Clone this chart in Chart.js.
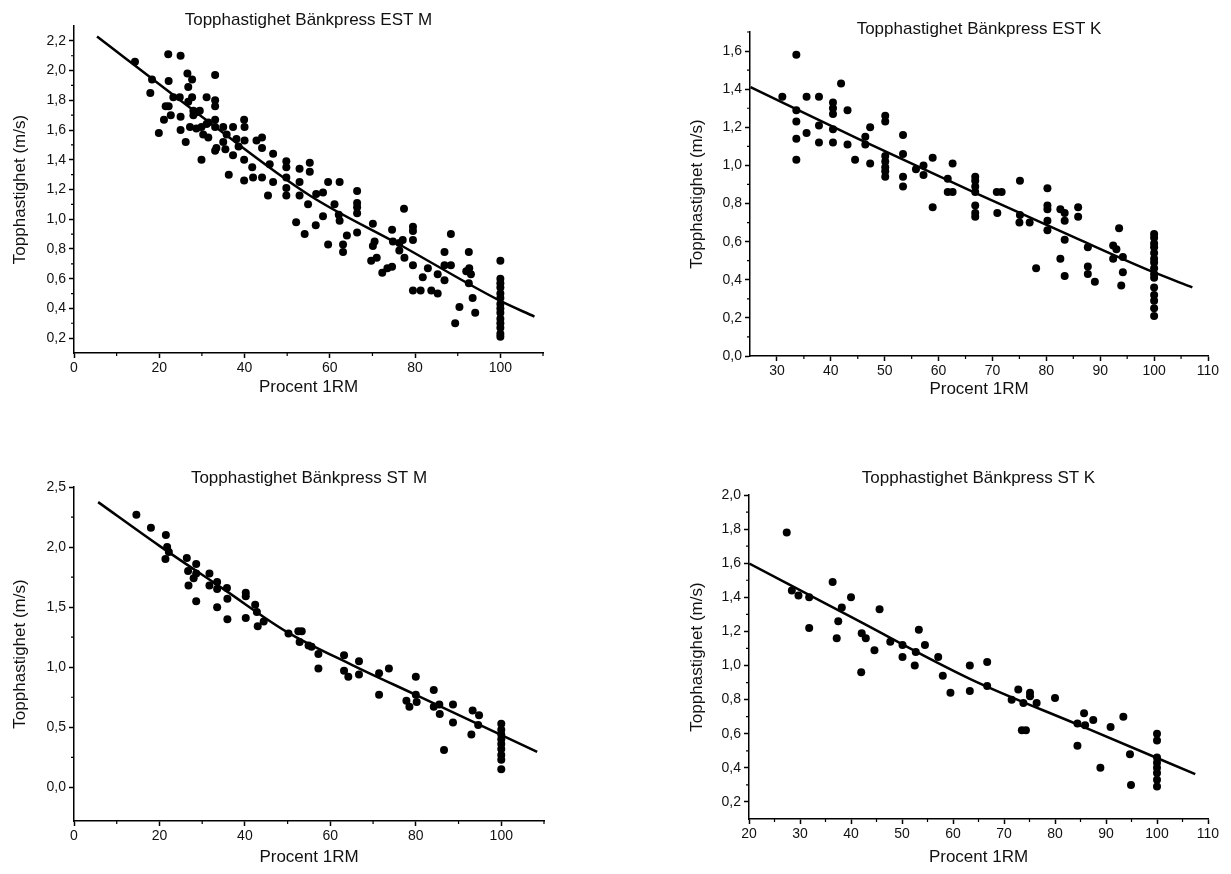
<!DOCTYPE html>
<html lang="sv">
<head>
<meta charset="utf-8">
<title>Topphastighet Bänkpress</title>
<script src="https://cdn.jsdelivr.net/npm/chart.js@4/dist/chart.umd.min.js"></script>
<style>
  html, body { margin: 0; padding: 0; background: #fff; }
  body { width: 1231px; height: 874px; position: relative; overflow: hidden; }
  canvas { position: absolute; }
</style>
</head>
<body>
<canvas id="estM" width="600" height="420" style="left:0;top:0"></canvas>
<canvas id="estK" width="580" height="420" style="left:650px;top:0"></canvas>
<canvas id="stM" width="600" height="434" style="left:0;top:440px"></canvas>
<canvas id="stK" width="580" height="434" style="left:650px;top:440px"></canvas>
<script>
// ---- Bänkpress EST, män ----
const estMLoad = [
  14.3, 22.1, 25.0, 18.3, 17.9, 26.6, 27.7, 26.8, 22.2, 33.1, 23.3, 24.8, 26.8, 27.7, 31.1, 33.1, 33.1, 21.5, 22.2, 22.7,
  21.1, 25.0, 19.9, 25.0, 26.2, 28.0, 28.7, 29.5, 28.0, 27.2, 28.7, 29.9, 31.1, 31.5, 30.3, 31.5, 33.1, 33.1, 33.4, 33.1,
  29.9, 35.0, 37.3, 39.9, 40.0, 35.8, 35.0, 35.5, 37.3, 38.1, 40.0, 38.6, 36.3, 39.9, 39.9, 41.8, 42.0, 42.8, 44.1, 44.1,
  44.1, 46.7, 45.9, 46.7, 45.5, 49.8, 49.8, 49.8, 49.8, 49.8, 52.9, 52.9, 52.9, 55.3, 55.3, 54.9,
  52.1, 54.1, 56.8, 58.4, 59.6, 62.3, 56.7, 58.4, 61.1, 62.1, 62.3, 59.6, 63.1, 63.1, 64.0, 66.4, 66.4, 66.4, 66.4, 66.4,
  70.1, 70.5, 70.1, 69.7, 71.0, 72.3, 73.5, 74.6, 74.6, 74.8, 76.3, 77.1, 76.3, 77.5, 77.4, 79.5, 79.5, 79.5, 79.5, 81.8,
  83.0, 79.5, 81.3, 83.8, 85.3, 85.3, 86.9, 86.9, 86.9, 88.4, 88.4, 92.6, 92.0, 92.7, 93.1, 92.6, 93.5, 90.4, 89.4, 94.1,
  100, 100, 100, 100, 100, 100, 100, 100, 100, 100, 100, 100, 100, 100
];
const estMSpeed = [
  2.06, 2.11, 2.10, 1.94, 1.85, 1.98, 1.94, 1.89, 1.93, 1.97, 1.82, 1.82, 1.79, 1.82, 1.82, 1.80, 1.76, 1.76, 1.76, 1.70,
  1.67, 1.69, 1.58, 1.60, 1.52, 1.73, 1.72, 1.73, 1.70, 1.62, 1.61, 1.62, 1.64, 1.65, 1.57, 1.55, 1.67, 1.62, 1.48, 1.46,
  1.40, 1.62, 1.62, 1.67, 1.62, 1.57, 1.52, 1.47, 1.43, 1.54, 1.53, 1.49, 1.30, 1.40, 1.26, 1.35, 1.28, 1.53, 1.55, 1.48,
  1.28, 1.44, 1.37, 1.25, 1.16, 1.39, 1.35, 1.28, 1.21, 1.16, 1.34, 1.25, 1.16, 1.38, 1.32, 1.10,
  0.98, 0.90, 1.17, 1.18, 1.25, 1.25, 0.96, 1.02, 1.10, 1.03, 0.99, 0.83, 0.83, 0.78, 0.89, 1.19, 1.11, 1.08, 1.04, 0.91,
  0.97, 0.85, 0.82, 0.72, 0.74, 0.64, 0.67, 0.68, 0.93, 0.85, 0.84, 0.86, 0.79, 0.74, 1.07, 0.95, 0.92, 0.86, 0.69, 0.61,
  0.67, 0.52, 0.52, 0.52, 0.50, 0.63, 0.78, 0.69, 0.59, 0.69, 0.90, 0.78, 0.65, 0.67, 0.63, 0.57, 0.47, 0.41, 0.30, 0.37,
  0.72, 0.60, 0.57, 0.54, 0.50, 0.47, 0.43, 0.40, 0.37, 0.33, 0.30, 0.27, 0.23, 0.21
];
const estMFitLoad = [5.4, 30, 55.3, 76.3, 100, 108];
const estMFitSpeed = [2.23, 1.69, 1.16, 0.83, 0.45, 0.345];
const estMXTicks = [0, 20, 40, 60, 80, 100];
const estMXMinor = [10, 30, 50, 70, 90, 110];
const estMYTicks = [0.2, 0.4, 0.6, 0.8, 1.0, 1.2, 1.4, 1.6, 1.8, 2.0, 2.2];
const estMYMinor = [0.3, 0.5, 0.7, 0.9, 1.1, 1.3, 1.5, 1.7, 1.9, 2.1];

// ---- Bänkpress EST, kvinnor ----
const estKLoad = [
  31.0, 33.6, 33.6, 33.6, 33.6, 33.6, 35.5, 35.5, 37.8, 37.8, 37.8, 40.4, 40.4, 40.4, 40.4, 40.4, 41.9, 43.1, 43.1, 44.5,
  46.4, 46.4, 47.3, 47.3, 50.1, 50.1, 50.1, 50.1, 50.1, 50.1, 50.1, 53.4, 53.4, 53.4, 53.4, 55.8, 57.2, 57.2, 58.9, 58.9,
  61.7, 61.7, 62.6, 62.6, 66.8, 66.8, 66.8, 66.8, 66.8, 66.8, 66.8,
  70.8, 71.7, 70.9, 75.1, 75.1, 75.0, 76.9, 78.1, 80.2, 80.2, 80.2, 80.2, 80.2, 82.6, 83.4, 83.4, 83.4, 82.6, 83.4, 85.9,
  85.9, 87.7, 87.7, 87.7, 89.0, 93.5, 92.4, 93.0, 92.4, 94.2, 94.2, 93.9,
  100, 100, 100, 100, 100, 100, 100, 100, 100, 100, 100, 100, 100, 100, 100
];
const estKSpeed = [
  1.36, 1.58, 1.29, 1.23, 1.14, 1.03, 1.36, 1.17, 1.36, 1.21, 1.12, 1.33, 1.30, 1.27, 1.19, 1.12, 1.43, 1.29, 1.11, 1.03,
  1.15, 1.11, 1.20, 1.01, 1.26, 1.23, 1.05, 1.02, 0.99, 0.97, 0.94, 1.16, 1.06, 0.94, 0.89, 0.98, 1.00, 0.95, 1.04, 0.78,
  0.93, 0.86, 0.86, 1.01, 0.94, 0.92, 0.89, 0.86, 0.79, 0.75, 0.73,
  0.86, 0.86, 0.75, 0.92, 0.74, 0.70, 0.70, 0.46, 0.88, 0.79, 0.77, 0.71, 0.66, 0.77, 0.75, 0.71, 0.61, 0.51, 0.42, 0.78,
  0.73, 0.57, 0.47, 0.43, 0.39, 0.67, 0.58, 0.56, 0.51, 0.52, 0.44, 0.37,
  0.64, 0.62, 0.59, 0.57, 0.54, 0.51, 0.49, 0.46, 0.43, 0.41, 0.36, 0.32, 0.29, 0.25, 0.21
];
const estKFitLoad = [25.1, 45, 67.1, 85, 99.8, 107.1];
const estKFitSpeed = [1.411, 1.14, 0.852, 0.625, 0.441, 0.36];
const estKXTicks = [30, 40, 50, 60, 70, 80, 90, 100, 110];
const estKXMinor = [35, 45, 55, 65, 75, 85, 95, 105];
const estKYTicks = [0.0, 0.2, 0.4, 0.6, 0.8, 1.0, 1.2, 1.4, 1.6];
const estKYMinor = [0.1, 0.3, 0.5, 0.7, 0.9, 1.1, 1.3, 1.5, 1.7];

// ---- Bänkpress ST, män ----
const stMLoad = [
  14.6, 18.0, 21.5, 21.8, 22.2, 21.4, 26.4, 26.7, 26.8, 28.6, 28.6, 28.0, 28.6, 31.7, 31.7, 33.5, 33.5, 33.5, 35.8, 35.9,
  35.9, 40.2, 40.2, 40.2, 42.4, 42.8, 43.0, 44.4, 50.2, 52.5, 53.3, 52.8, 54.9,
  55.6, 57.2, 57.2, 63.2, 63.2, 64.2, 66.7, 66.7, 71.4, 73.7, 71.4, 80.0, 77.8, 78.5, 80.0, 80.2, 84.2, 84.2, 85.5, 85.6,
  88.7, 88.7, 86.6, 93.3, 94.8, 94.6, 93.0,
  100, 100, 100, 100, 100, 100, 100, 100, 100
];
const stMSpeed = [
  2.27, 2.16, 2.10, 2.00, 1.96, 1.90, 1.91, 1.80, 1.68, 1.86, 1.78, 1.74, 1.55, 1.78, 1.68, 1.71, 1.65, 1.50, 1.66, 1.57,
  1.40, 1.62, 1.59, 1.41, 1.52, 1.46, 1.34, 1.38, 1.28, 1.30, 1.30, 1.21, 1.18,
  1.17, 1.11, 0.99, 1.10, 0.97, 0.92, 1.05, 0.94, 0.95, 0.99, 0.77, 0.92, 0.72, 0.67, 0.77, 0.71, 0.81, 0.67, 0.69, 0.61,
  0.69, 0.54, 0.31, 0.64, 0.60, 0.52, 0.44,
  0.53, 0.48, 0.44, 0.40, 0.36, 0.32, 0.27, 0.23, 0.15
];
const stMFitLoad = [5.65, 20, 35, 50, 65, 80, 108.4];
const stMFitSpeed = [2.374, 2.01, 1.65, 1.29, 1.02, 0.77, 0.296];
const stMXTicks = [0, 20, 40, 60, 80, 100];
const stMXMinor = [10, 30, 50, 70, 90, 110];
const stMYTicks = [0.0, 0.5, 1.0, 1.5, 2.0, 2.5];
const stMYMinor = [0.25, 0.75, 1.25, 1.75, 2.25];

// ---- Bänkpress ST, kvinnor ----
const stKLoad = [
  27.4, 28.4, 29.7, 31.8, 31.8, 36.4, 38.2, 37.5, 37.2, 40.0, 45.6, 42.1, 42.9, 44.6, 47.7, 50.1, 50.1, 53.3, 54.5, 52.7,
  57.1, 42.0, 52.5, 58.0, 59.5,
  63.3, 63.3, 66.7, 66.7, 72.8, 71.5, 73.8, 75.1, 75.1, 76.4, 73.5, 74.3, 80.0, 84.4, 85.7, 85.9, 87.5, 84.4, 90.9, 93.4,
  88.9, 94.7, 94.9,
  100, 100, 100, 100, 100, 100, 100, 100
];
const stKSpeed = [
  1.78, 1.44, 1.41, 1.40, 1.22, 1.49, 1.34, 1.26, 1.16, 1.40, 1.33, 1.19, 1.16, 1.09, 1.14, 1.12, 1.05, 1.21, 1.12, 1.08,
  1.05, 0.96, 1.00, 0.94, 0.84,
  1.00, 0.85, 1.02, 0.88, 0.86, 0.80, 0.78, 0.84, 0.82, 0.78, 0.62, 0.62, 0.81, 0.66, 0.72, 0.65, 0.68, 0.53, 0.64, 0.70,
  0.40, 0.48, 0.30,
  0.60, 0.56, 0.46, 0.43, 0.40, 0.37, 0.33, 0.29
];
const stKFitLoad = [20.06, 40, 63.3, 85, 107.5];
const stKFitSpeed = [1.598, 1.285, 0.922, 0.647, 0.363];
const stKXTicks = [20, 30, 40, 50, 60, 70, 80, 90, 100, 110];
const stKXMinor = [25, 35, 45, 55, 65, 75, 85, 95, 105];
const stKYTicks = [0.2, 0.4, 0.6, 0.8, 1.0, 1.2, 1.4, 1.6, 1.8, 2.0];
const stKYMinor = [0.3, 0.5, 0.7, 0.9, 1.1, 1.3, 1.5, 1.7, 1.9];

const FONT = "'Liberation Sans Narrow', 'Arial Narrow', 'Liberation Sans', Arial, sans-serif";
const INK = '#000';

// Short minor tick marks on the outside of both axes
const minorTicks = {
  id: 'minorTicks',
  afterDraw(chart, args, opts) {
    const { ctx, scales: { x, y } } = chart;
    ctx.save();
    ctx.strokeStyle = INK;
    ctx.lineWidth = 1.2;
    ctx.beginPath();
    for (const v of opts.x) {
      const px = x.getPixelForValue(v);
      ctx.moveTo(px, y.bottom);
      ctx.lineTo(px, y.bottom + opts.len);
    }
    for (const v of opts.y) {
      const py = y.getPixelForValue(v);
      ctx.moveTo(x.left, py);
      ctx.lineTo(x.left - opts.len, py);
    }
    ctx.stroke();
    ctx.restore();
  }
};

function panel(id, s, box) {
  const pts = s.load.map((x, i) => ({ x, y: s.speed[i] }));
  const fit = s.fitLoad.map((x, i) => ({ x, y: s.fitSpeed[i] }));
  const axisGrid = {
    display: true, drawOnChartArea: false, drawTicks: true,
    tickLength: 5, tickColor: INK, tickWidth: 1.5
  };
  return new Chart(document.getElementById(id), {
    type: 'scatter',
    data: {
      datasets: [
        { data: pts, backgroundColor: INK, borderWidth: 0, pointRadius: 4, pointHoverRadius: 4, order: 1 },
        { type: 'line', data: fit, borderColor: INK, borderWidth: 2.5, pointRadius: 0,
          fill: false, cubicInterpolationMode: 'monotone', order: 0 }
      ]
    },
    options: {
      responsive: false,
      animation: false,
      devicePixelRatio: 1,
      events: [],
      layout: { padding: { left: 0, right: box.padRight, top: 0, bottom: 0 } },
      plugins: {
        legend: { display: false },
        tooltip: { enabled: false },
        title: {
          display: true, text: s.title, fullSize: false, color: '#111',
          font: { family: FONT, size: 17, weight: 'normal', lineHeight: 1 },
          padding: { top: box.titleTop, bottom: box.titleBottom }
        },
        minorTicks: { x: s.xMinor, y: s.yMinor, len: 3 }
      },
      scales: {
        x: {
          type: 'linear', position: 'bottom', min: s.xMin, max: s.xMax,
          afterBuildTicks: a => { a.ticks = s.xTicks.map(v => ({ value: v })); },
          afterFit: a => { a.height = box.xHeight; },
          border: { display: true, color: INK, width: 1.5 },
          grid: axisGrid,
          ticks: { color: '#111', font: { family: FONT, size: 14 }, padding: 2,
                   maxRotation: 0, autoSkip: false, callback: v => String(v) },
          title: { display: true, text: 'Procent 1RM', color: '#111',
                   font: { family: FONT, size: 17 }, padding: { top: 0, bottom: box.xTitlePad } }
        },
        y: {
          type: 'linear', position: 'left', min: s.yMin, max: s.yMax,
          afterBuildTicks: a => { a.ticks = s.yTicks.map(v => ({ value: v })); },
          afterFit: a => { a.width = box.yWidth; },
          border: { display: true, color: INK, width: 1.5 },
          grid: axisGrid,
          ticks: { color: '#111', font: { family: FONT, size: 14 }, padding: 3,
                   autoSkip: false, callback: v => v.toFixed(1).replace('.', ',') },
          title: { display: true, text: 'Topphastighet (m/s)', color: '#111',
                   font: { family: FONT, size: 17 }, padding: { top: box.yTitlePad, bottom: 0 } }
        }
      }
    },
    plugins: [minorTicks]
  });
}

panel('estM', {
  title: 'Topphastighet Bänkpress EST M',
  load: estMLoad, speed: estMSpeed, fitLoad: estMFitLoad, fitSpeed: estMFitSpeed,
  xMin: 0, xMax: 110, yMin: 0.1, yMax: 2.3,
  xTicks: estMXTicks, xMinor: estMXMinor, yTicks: estMYTicks, yMinor: estMYMinor
}, { yWidth: 74, padRight: 57, titleTop: 11.5, titleBottom: -2.5, xHeight: 67, xTitlePad: 22, yTitlePad: 10 });

panel('estK', {
  title: 'Topphastighet Bänkpress EST K',
  load: estKLoad, speed: estKSpeed, fitLoad: estKFitLoad, fitSpeed: estKFitSpeed,
  xMin: 25, xMax: 110, yMin: 0.0, yMax: 1.7,
  xTicks: estKXTicks, xMinor: estKXMinor, yTicks: estKYTicks, yMinor: estKYMinor
}, { yWidth: 100, padRight: 22, titleTop: 20.5, titleBottom: -5.5, xHeight: 64, xTitlePad: 20, yTitlePad: 37 });

panel('stM', {
  title: 'Topphastighet Bänkpress ST M',
  load: stMLoad, speed: stMSpeed, fitLoad: stMFitLoad, fitSpeed: stMFitSpeed,
  xMin: 0, xMax: 110, yMin: -0.28, yMax: 2.5,
  xTicks: stMXTicks, xMinor: stMXMinor, yTicks: stMYTicks, yMinor: stMYMinor
}, { yWidth: 74, padRight: 56, titleTop: 29.5, titleBottom: 0.5, xHeight: 53, xTitlePad: 6, yTitlePad: 10 });

panel('stK', {
  title: 'Topphastighet Bänkpress ST K',
  load: stKLoad, speed: stKSpeed, fitLoad: stKFitLoad, fitSpeed: stKFitSpeed,
  xMin: 20, xMax: 110, yMin: 0.1, yMax: 2.0,
  xTicks: stKXTicks, xMinor: stKXMinor, yTicks: stKYTicks, yMinor: stKYMinor
}, { yWidth: 99, padRight: 22, titleTop: 29.5, titleBottom: 8.5, xHeight: 55, xTitlePad: 6, yTitlePad: 37 });
</script>
</body>
</html>
